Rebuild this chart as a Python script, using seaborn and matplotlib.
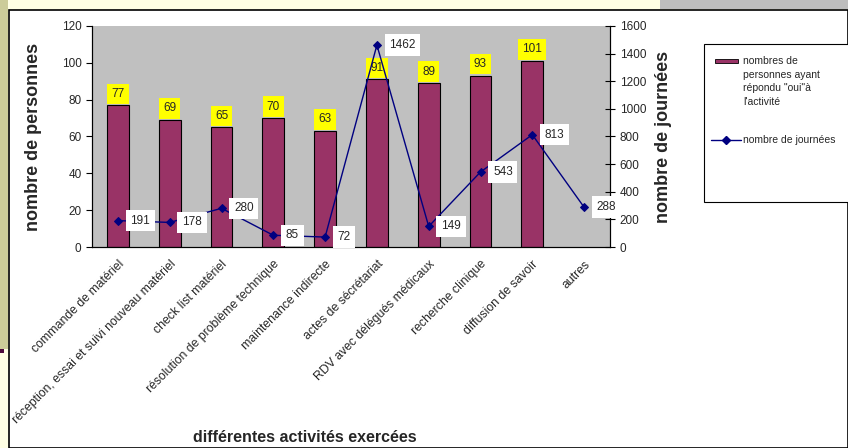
import numpy as np
import pandas as pd
import seaborn as sns
import matplotlib.pyplot as plt
from matplotlib.patches import Rectangle
from matplotlib.lines import Line2D

sns.set_style("white")
plt.rcParams['font.family'] = ['Liberation Sans', 'DejaVu Sans']

activities = ["commande de matériel", "réception, essai et suivi nouveau matériel",
              "check list matériel", "résolution de problème technique",
              "maintenance indirecte", "actes de sécrétariat",
              "RDV avec délégués médicaux", "recherche clinique",
              "diffusion de savoir", "autres"]
persons = [77, 69, 65, 70, 63, 91, 89, 93, 101, np.nan]
days = [191, 178, 280, 85, 72, 1462, 149, 543, 813, 288]

bar_color = "#993366"
line_color = "#000080"

df = pd.DataFrame({"activite": activities, "personnes": persons, "journees": days})
n = len(activities)

W, H = 848, 448


def fx(px):
    return px / W


def fy(py):
    return 1 - py / H


fig = plt.figure(figsize=(8.48, 4.48), dpi=100)
fig.patch.set_facecolor("#FFFFE4")
# background decorations (slide frame)
fig.add_artist(Rectangle((0, fy(349)), fx(8), 349 / H, transform=fig.transFigure,
                         facecolor="#CCCC99", edgecolor="none", zorder=0))
fig.add_artist(Rectangle((0, fy(353)), fx(4), 4 / H, transform=fig.transFigure,
                         facecolor="#4D0A3C", edgecolor="none", zorder=0))
fig.add_artist(Rectangle((fx(660), fy(9)), fx(188), 9 / H, transform=fig.transFigure,
                         facecolor="#BDBDBD", edgecolor="none", zorder=0))
fig.add_artist(Rectangle((fx(9), 0), fx(839), fy(10), transform=fig.transFigure,
                         facecolor="white", edgecolor="black", linewidth=1.2, zorder=0))

ax = fig.add_axes([fx(92), fy(247), fx(610 - 92), (247 - 26) / H])
ax.set_facecolor("#C0C0C0")

x = np.arange(n)
sns.barplot(x=x, y=df["personnes"], ax=ax, color=bar_color, width=0.42,
            edgecolor="black", linewidth=0.8, saturation=1, native_scale=True)
ax.set_xlim(-0.5, n - 0.5)
ax.set_ylim(0, 120)
ax.set_yticks(range(0, 121, 20))

for i, v in enumerate(persons):
    if not np.isnan(v):
        ax.annotate(f"{v:.0f}", (i, v), xytext=(0, 4), textcoords="offset points",
                    ha="center", va="bottom", fontsize=8.5,
                    bbox=dict(boxstyle="square,pad=0.35", facecolor="yellow", edgecolor="none"))

ax2 = ax.twinx()
sns.lineplot(x=x, y=df["journees"], ax=ax2, color=line_color, marker="D",
             markersize=4, markeredgecolor=line_color, linewidth=1)
ax2.set_ylim(0, 1600)
ax2.set_yticks(range(0, 1601, 200))
for i, v in enumerate(days):
    ax2.annotate(f"{v}", (i, v), xytext=(9, 0), textcoords="offset points",
                 ha="left", va="center", fontsize=8.5,
                 bbox=dict(boxstyle="square,pad=0.4", facecolor="white", edgecolor="none"))

# x ticks at category boundaries, labels at centres
ax.set_xticks(np.arange(-0.5, n, 1))
ax.set_xticklabels([])
ax.set_xticks(x, minor=True)
ax.set_xticklabels(activities, minor=True, rotation=45, ha="right",
                   rotation_mode="anchor", fontsize=8.8)
ax.tick_params(axis="x", which="major", direction="out", length=4, width=0.8, color="black")
ax.tick_params(axis="x", which="minor", length=0, pad=8)
ax.tick_params(axis="y", direction="out", length=4, width=0.8, color="black",
               labelsize=8.5, left=True)
ax2.tick_params(axis="y", direction="inout", length=7, width=0.8, color="black",
                labelsize=8.5, right=True)
ax.set_xlabel("")
ax.set_ylabel("nombre de personnes", fontsize=13, fontweight="bold", labelpad=14)
ax2.set_ylabel("nombre de journées", fontsize=13, fontweight="bold", labelpad=6)
fig.text(fx(305), fy(437), "différentes activités exercées", fontsize=11.5,
         fontweight="bold", ha="center", va="center")

for a in (ax, ax2):
    a.spines["top"].set_visible(False)
    for s in ("left", "right", "bottom"):
        a.spines[s].set_color("black")
        a.spines[s].set_linewidth(0.8)

# legend drawn by hand, as in the original box
fig.add_artist(Rectangle((fx(704), fy(202)), fx(150), (202 - 44) / H, transform=fig.transFigure,
                         facecolor="white", edgecolor="black", linewidth=0.8, zorder=3))
fig.add_artist(Rectangle((fx(715), fy(63.5)), fx(23), 4.5 / H, transform=fig.transFigure,
                         facecolor=bar_color, edgecolor="black", linewidth=0.6, zorder=4))
fig.text(fx(743), fy(56), "nombres de\npersonnes ayant\nrépondu \"oui\"à\nl'activité",
         fontsize=7.5, va="top", ha="left", linespacing=1.45, zorder=5)
fig.add_artist(Line2D([fx(711), fx(741)], [fy(140), fy(140)], transform=fig.transFigure,
                      color=line_color, linewidth=1, zorder=4))
fig.add_artist(Line2D([fx(726)], [fy(140)], transform=fig.transFigure, color=line_color,
                      marker="D", markersize=4, zorder=4))
fig.text(fx(743), fy(140), "nombre de journées", fontsize=7.5, va="center", ha="left", zorder=5)

fig.savefig("out.png", dpi=100, facecolor=fig.get_facecolor())
